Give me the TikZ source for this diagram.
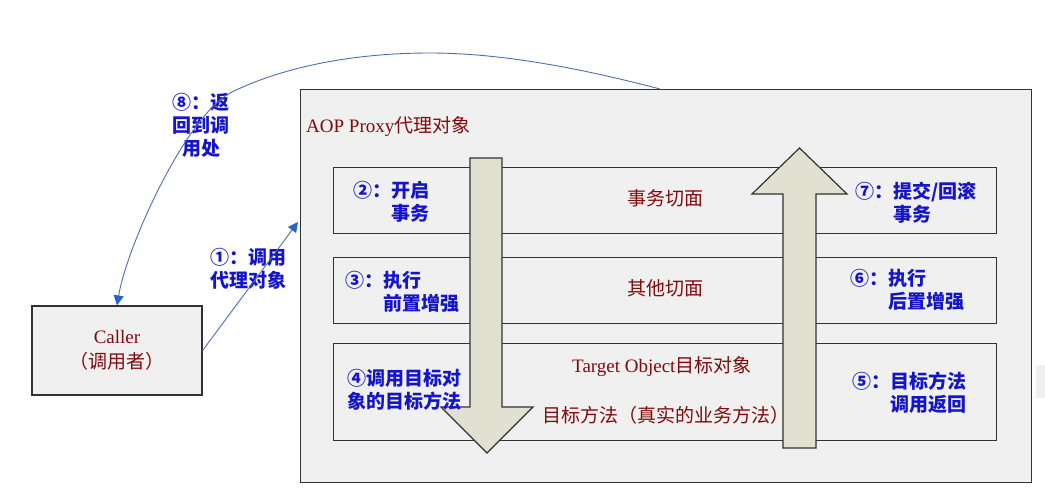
\documentclass[tikz,border=0pt]{standalone}
\usepackage{fontspec}
\setmainfont{Liberation Serif}
\newfontfamily\cjk{Noto Sans CJK SC}
\usetikzlibrary{arrows.meta}
\definecolor{boxfill}{RGB}{240,240,240}
\definecolor{arrfill}{RGB}{225,225,210}
\definecolor{edge}{RGB}{50,50,50}
\definecolor{redtxt}{RGB}{130,10,10}
\definecolor{bluetxt}{RGB}{20,20,200}
\definecolor{linkc}{RGB}{80,110,170}
\definecolor{tipc}{RGB}{40,100,200}
\begin{document}
\begin{tikzpicture}[x=1pt,y=-1pt,
 box/.style={draw=edge, line width=1.2pt, fill=boxfill, inner sep=0},
 bigarrow/.style={draw=edge, line width=1.2pt, fill=arrfill},
 redlabel/.style={text=redtxt, font=\fontsize{19}{23}\selectfont\cjk, inner sep=0},
 bluelabel/.style={text=bluetxt, font=\fontsize{19}{23}\selectfont\cjk\bfseries, inner sep=0, align=left, anchor=west},
 link/.style={draw=linkc, line width=0.9pt, -{Triangle[length=10pt,width=10pt,color=tipc]}}
]
\useasboundingbox (0,0) rectangle (1045,495);
\fill[white] (0,0) rectangle (1045,495);
\fill[gray!12] (1036,365) rectangle (1045,398);

\node[box, minimum width=731pt, minimum height=393pt, anchor=north west] (proxy) at (300,89) {};
\node[box, minimum width=663pt, minimum height=66pt, anchor=north west] (tx) at (333,167) {};
\node[box, minimum width=663pt, minimum height=66pt, anchor=north west] (other) at (333,257) {};
\node[box, minimum width=663pt, minimum height=97pt, anchor=north west] (target) at (333,343) {};

\node[box, minimum width=170pt, minimum height=89pt, align=center, text=redtxt, font=\fontsize{19}{25}\selectfont] (caller) at (117,350.5) {Caller\\{\cjk（调用者）}};

\draw[bigarrow] (470,158) -- (502,158) -- (502,407) -- (533,407) -- (487,453) -- (441,407) -- (470,407) -- cycle;
\draw[bigarrow] (783,448) -- (816,448) -- (816,194) -- (847,194) -- (799.5,148) -- (752,194) -- (783,194) -- cycle;

\node[redlabel, anchor=west] (proxylbl) at (306,127) {{\rmfamily AOP Proxy}代理对象};
\node[redlabel] (txlbl) at (665,198) {事务切面};
\node[redlabel] (otherlbl) at (665,288) {其他切面};
\node[redlabel, anchor=west] (tolbl) at (572,367) {{\rmfamily Target Object}目标对象};
\node[redlabel, anchor=west] (tmlbl) at (542,415) {目标方法（真实的业务方法）};

\node[bluelabel] (s2) at (353,201.5) {②：开启\\\hphantom{②：}事务};
\node[bluelabel] (s3) at (345,291.5) {③：执行\\\hphantom{③：}前置增强};
\node[bluelabel] (s4) at (347,390) {④调用目标对\\象的目标方法};
\node[bluelabel] (s5) at (852,392.5) {⑤：目标方法\\\hphantom{⑤：}调用返回};
\node[bluelabel] (s6) at (850,290) {⑥：执行\\\hphantom{⑥：}后置增强};
\node[bluelabel] (s7) at (855,202.5) {⑦：提交/回滚\\\hphantom{⑦：}事务};
\node[bluelabel] (s1) at (210,268.5) {①：调用\\代理对象};
\node[bluelabel, align=center, anchor=center] (s8) at (201,125) {⑧：返\\回到调\\用处};

\coordinate (in1) at (298,222);
\coordinate (out8) at (660,89);
\draw[link] (caller.east) -- (in1);
\draw[link] (out8) .. controls (580,68) and (500,53) .. (430,53) .. controls (350,53) and (280,68) .. (230,93) .. controls (185,118) and (127,246) .. (caller.north);
\end{tikzpicture}
\end{document}
